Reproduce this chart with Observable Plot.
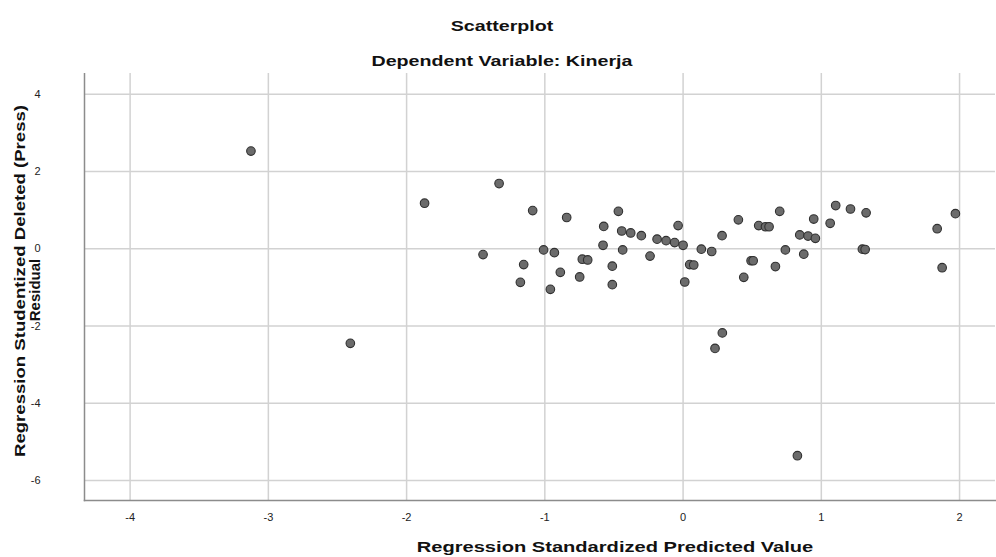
<!DOCTYPE html>
<html>
<head>
<meta charset="utf-8">
<script src="https://cdn.jsdelivr.net/npm/d3@7"></script>
<script src="https://cdn.jsdelivr.net/npm/@observablehq/plot@0.6"></script>
<style>
  html, body { margin: 0; padding: 0; background: #fff; }
  body { width: 996px; height: 557px; overflow: hidden; font-family: "Liberation Sans", Arial, sans-serif; }
  #header { position: relative; width: 996px; height: 73px; }
  #header div, #caption div { position: absolute; left: 0; width: 1004px; text-align: center; font-weight: bold; font-size: 15px; color: #111; transform: scaleX(1.31); transform-origin: 502px 50%; white-space: nowrap; }
  #t1 { top: 17px; }
  #t2 { top: 52px; }
  #caption { position: relative; width: 996px; height: 35px; }
  #caption div { width: 1230px; transform-origin: 615px 50%; top: 16px; transform: scaleX(1.34); }
  svg { display: block; }
</style>
</head>
<body>
<div id="header">
  <div id="t1">Scatterplot</div>
  <div id="t2">Dependent Variable: Kinerja</div>
</div>
<div id="chart"></div>
<div id="caption"><div id="xt"></div></div>
<script>
// Regression Standardized Predicted Value
const predicted = [
  -3.126, -2.407, -1.870, -1.331, -1.088, -0.842, -1.447, -1.009, -0.931, -1.153,
  -1.177, -0.888, -0.960, -0.729, -0.690, -0.748, -0.468, -0.574, -0.444, -0.379,
  -0.302, -0.579, -0.437, -0.239, -0.188, -0.123, -0.061, -0.036, 0.000, -0.512,
  -0.512, 0.012, 0.048, 0.077, 0.132, 0.207, 0.282, 0.400, 0.439, 0.492,
  0.507, 0.547, 0.596, 0.622, 0.668, 0.699, 0.740, 0.844, 0.904, 0.957,
  0.945, 0.873, 1.064, 1.104, 1.211, 1.324, 1.297, 1.317, 1.838, 1.970,
  1.874, 0.284, 0.231, 0.827
];
// Regression Studentized Deleted (Press) Residual
const residual = [
  2.53, -2.45, 1.18, 1.69, 0.99, 0.81, -0.15, -0.03, -0.10, -0.41,
  -0.87, -0.61, -1.05, -0.27, -0.29, -0.73, 0.97, 0.58, 0.46, 0.41,
  0.34, 0.09, -0.03, -0.19, 0.25, 0.21, 0.16, 0.60, 0.09, -0.45,
  -0.93, -0.86, -0.41, -0.42, -0.01, -0.07, 0.34, 0.75, -0.74, -0.31,
  -0.31, 0.60, 0.57, 0.57, -0.46, 0.97, -0.03, 0.36, 0.33, 0.27,
  0.77, -0.14, 0.66, 1.12, 1.03, 0.93, -0.01, -0.02, 0.52, 0.91,
  -0.49, -2.18, -2.58, -5.36
];
const xTicks = [-4, -3, -2, -1, 0, 1, 2];
const yTicks = [-6, -4, -2, 0, 2, 4];
const xDomain = [-4.33, 2.26];
const yDomain = [-6.52, 4.54];
const xTitle = "Regression Standardized Predicted Value";
const yTitleLines = ["Regression Studentized Deleted (Press)", "Residual"];

document.getElementById("xt").textContent = xTitle;

const data = predicted.map((x, i) => ({x, y: residual[i]}));
const fmt = d => String(d);

const chart = Plot.plot({
  width: 996,
  height: 449,
  marginTop: 0,
  marginBottom: 22,
  marginLeft: 84,
  marginRight: 1,
  style: {fontFamily: "Liberation Sans, Arial, sans-serif", background: "#fff", fontSize: "11px", color: "#222"},
  x: {domain: xDomain, ticks: xTicks, tickFormat: fmt, tickSize: 0, tickPadding: 13, label: null},
  y: {domain: yDomain, ticks: yTicks, tickFormat: fmt, tickSize: 0, tickPadding: 44, label: null},
  marks: [
    Plot.gridX(xTicks, {stroke: "#d2d2d2", strokeOpacity: 1, strokeWidth: 1.5}),
    Plot.gridY(yTicks, {stroke: "#d2d2d2", strokeOpacity: 1, strokeWidth: 1.5}),
    Plot.frame({anchor: "left", stroke: "#8c8c8c", strokeWidth: 1.5}),
    Plot.frame({anchor: "bottom", stroke: "#8c8c8c", strokeWidth: 1.5}),
    Plot.dot(data, {x: "x", y: "y", r: 4.3, fill: "#6b6b6b", stroke: "#303030", strokeWidth: 1.1}),
    Plot.text([yTitleLines[0]], {frameAnchor: "left", textAnchor: "middle", dx: -64, dy: -6, rotate: -90, lineAnchor: "middle", fontSize: 15, fontWeight: "bold", fill: "#111", className: "ytitle1"}),
    Plot.text([yTitleLines[1]], {frameAnchor: "left", textAnchor: "middle", dx: -49, dy: 3, rotate: -90, lineAnchor: "middle", fontSize: 15, fontWeight: "bold", fill: "#111", className: "ytitle2"})
  ]
});
d3.select(chart).selectAll(".ytitle1 text").attr("transform", function() {
  return (this.getAttribute("transform") || "") + " scale(1.24,1)";
});
document.getElementById("chart").appendChild(chart);
</script>
</body>
</html>
